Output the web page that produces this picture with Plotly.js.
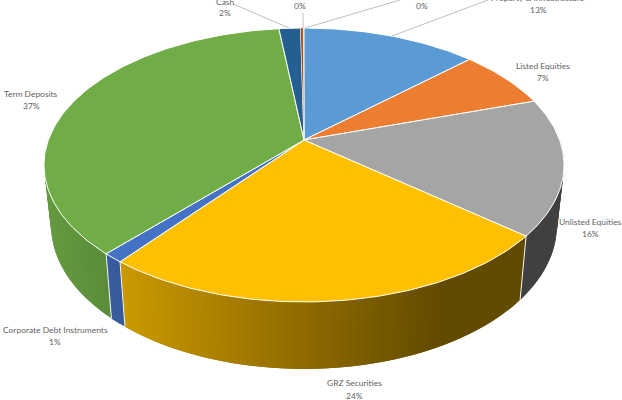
<!DOCTYPE html>
<html><head><meta charset="utf-8">
<script src="https://cdn.plot.ly/plotly-3.0.1.min.js"></script>
<style>html,body{margin:0;padding:0;background:#fff}#chart{width:622px;height:400px}</style>
</head><body><div id="chart"></div>
<script>
// Data, clockwise from 12 o'clock
const categories = ["Property & Infrastructure","Listed Equities","Unlisted Equities","GRZ Securities","Corporate Debt Instruments","Term Deposits","Cash","",""];
const values = [13.0, 7.0, 16.1, 24.5, 1.1, 36.5, 1.6, 0.2, 0.05];
const percentLabels = ["13%","7%","16%","24%","1%","37%","2%","0%","0%"];
const colors = ["#5B9BD5","#ED7D31","#A5A5A5","#FFC000","#4472C4","#70AD47","#255E91","#9E480E","#636363"];

// Tilted disc projection (pixel space of the hidden axes)
const CX=304, CY=140, A=255.6, B=132.4, K=0.1825;
const WALL_SX=0.973, WALL_SY=1.05, WALL_Y0=302, WALL_Y1=369;
function rimTop(t){const u=Math.sin(t),v=Math.cos(t),d=1+K*v;return [CX+A*u/d, CY-B*v/d];}
function rimLow(t){const p=rimTop(t);return [CX+(p[0]-CX)*WALL_SX, WALL_Y1+(p[1]-WALL_Y0)*WALL_SY];}
function shade(hex,x){
  const f=Math.max(0.385,Math.min(0.95,0.79-(x-124)*0.00128));
  const c=[1,3,5].map(i=>Math.round(parseInt(hex.substr(i,2),16)*f));
  return `rgb(${c.join(',')})`;
}
const total=values.reduce((a,b)=>a+b,0);
const traces=[];
let cum=0;
const slices=values.map((v,i)=>{const s=cum/total*2*Math.PI;cum+=v;return {i,s,e:cum/total*2*Math.PI};});

// Side wall: narrow overlapping bands, so no seams show between them
const STEP=1.5*Math.PI/180, W0=Math.PI/2, W1=3*Math.PI/2;
slices.forEach(sl=>{
  const a=Math.max(sl.s,W0), b=Math.min(sl.e,W1);
  if(b<=a) return;
  const n=Math.max(1,Math.ceil((b-a)/STEP));
  const dt=(b-a)/n;
  for(let j=0;j<n;j++){
    const t0=a+dt*j, t1=Math.min(b,a+dt*(j+2));
    const p=[rimTop(t0),rimTop(t1),rimLow(t1),rimLow(t0),rimTop(t0)];
    const mid=rimTop(a+dt*(j+0.5));
    const col=shade(colors[sl.i],mid[0]);
    traces.push({type:'scatter',mode:'lines',x:p.map(q=>q[0]),y:p.map(q=>q[1]),fill:'toself',fillcolor:col,
      line:{width:0},hoverinfo:'skip',showlegend:false});
  }
});
// Wall separators
slices.forEach(sl=>{
  if(sl.s>W0 && sl.s<W1){
    const p=rimTop(sl.s),q=rimLow(sl.s);
    traces.push({type:'scatter',mode:'lines',x:[p[0],q[0]],y:[p[1],q[1]],line:{color:'#f4f4f0',width:1},hoverinfo:'skip',showlegend:false});
  }
});
// Top face
slices.forEach(sl=>{
  const n=Math.max(2,Math.ceil((sl.e-sl.s)/(1*Math.PI/180)));
  const xs=[CX],ys=[CY];
  for(let j=0;j<=n;j++){const p=rimTop(sl.s+(sl.e-sl.s)*j/n);xs.push(p[0]);ys.push(p[1]);}
  xs.push(CX);ys.push(CY);
  traces.push({type:'scatter',mode:'lines',x:xs,y:ys,fill:'toself',fillcolor:colors[sl.i],name:categories[sl.i],
    line:{color:'#ffffff',width:sl.i>=7?0.3:1},hoverinfo:'name',showlegend:false});
});

const F={family:'Lato, Carlito, sans-serif',size:8.45,color:'#5f5f5f'};
// x, name line y, percent line y
const labelPos=[[538,-2,10],[543,66,78],[590,222,234],[354,383,396],[55,330,342],[31,94,106],[225,2,13],[300,null,6],[422,null,6]];
const annotations=[];
labelPos.forEach((p,i)=>{
  // A text anchored above the plot would be dropped, so anchor at 0 and shift it up
  const mk=(y,text)=>({xref:'x',yref:'y',x:p[0],y:Math.max(y,0),yshift:y<0?-y:0,showarrow:false,text,font:F,xanchor:'center',yanchor:'middle'});
  if(p[1]!==null) annotations.push(mk(p[1],categories[i]));
  annotations.push(mk(p[2],percentLabels[i]));
});
const leader=[[233,4,289,28],[303,13,303,28],[400,0,305,28],[488,0,392,36]];
const shapes=leader.map(l=>({type:'line',xref:'x',yref:'y',x0:l[0],y0:l[1],x1:l[2],y1:l[3],line:{color:'#BFBFBF',width:1}}));

Plotly.newPlot('chart',traces,{
  width:622,height:400,margin:{l:0,r:0,t:0,b:0},paper_bgcolor:'#fff',plot_bgcolor:'#fff',showlegend:false,
  xaxis:{range:[0,622],visible:false,fixedrange:true},
  yaxis:{range:[400,0],visible:false,fixedrange:true},
  annotations,shapes
},{staticPlot:true,displayModeBar:false});
</script></body></html>
